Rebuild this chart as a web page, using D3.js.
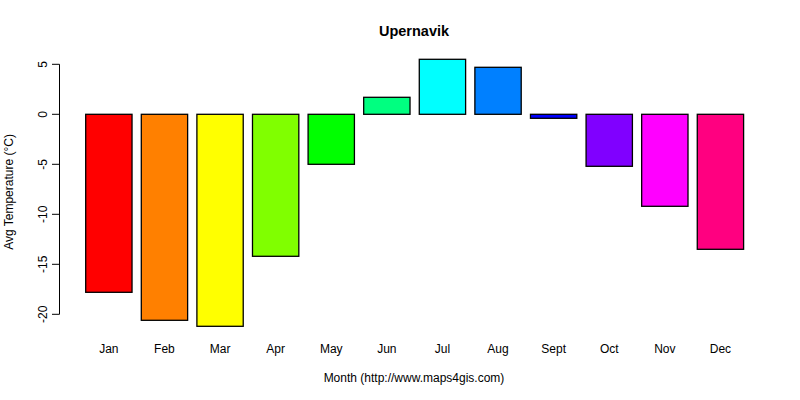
<!DOCTYPE html>
<html><head><meta charset="utf-8">
<script src="https://cdn.jsdelivr.net/npm/d3@7"></script>
<style>body{margin:0;background:#fff}svg{display:block}text{font-family:"Liberation Sans",Arial,sans-serif;fill:#000}</style>
</head><body><svg id="c" width="800" height="400"></svg>
<script>
const months = ["Jan","Feb","Mar","Apr","May","Jun","Jul","Aug","Sept","Oct","Nov","Dec"];
const temps = [-17.8,-20.6,-21.2,-14.2,-5.0,1.7,5.5,4.7,-0.4,-5.2,-9.2,-13.5];
const colors = ["#FF0000","#FF8000","#FFFF00","#80FF00","#00FF00","#00FF80","#00FFFF","#0080FF","#0000FF","#8000FF","#FF00FF","#FF0080"];
const yTicks = [5,0,-5,-10,-15,-20];
const title = "Upernavik";
const xTitle = "Month (http://www.maps4gis.com)";
const yTitle = "Avg Temperature (°C)";

const svg = d3.select("#c");
const x = d3.scaleBand().domain(months).range([85.7,743.6]).paddingInner(0.2/1.2).paddingOuter(0);
const y = d3.scaleLinear().domain([-20,5]).range([314.3,64.3]);

svg.selectAll("rect.bar").data(months).enter().append("rect")
  .attr("x", d=>x(d)).attr("width", x.bandwidth())
  .attr("y", (d,i)=>y(Math.max(0,temps[i])))
  .attr("height", (d,i)=>Math.abs(y(temps[i])-y(0)))
  .attr("fill", (d,i)=>colors[i]).attr("stroke","#000").attr("stroke-width",1.3);

// y axis
const ax = svg.append("g").attr("transform","translate(59.5,0)");
ax.append("line").attr("x1",0).attr("x2",0).attr("y1",y(5)).attr("y2",y(-20)).attr("stroke","#000").attr("stroke-width",1);
yTicks.forEach(t=>{
  ax.append("line").attr("x1",-7.5).attr("x2",0).attr("y1",y(t)).attr("y2",y(t)).attr("stroke","#000");
  ax.append("text").attr("transform",`translate(-17,${y(t)}) rotate(-90)`).attr("text-anchor","middle")
    .attr("dy","0.35em").style("font-size","12px").text(t);
});
// x labels
svg.selectAll("text.m").data(months).enter().append("text")
  .attr("x", d=>x(d)+x.bandwidth()/2).attr("y",353).attr("text-anchor","middle").style("font-size","12px").text(d=>d);

svg.append("text").attr("x",414).attr("y",36).attr("text-anchor","middle").style("font-size","14.5px").style("font-weight","bold").text(title);
svg.append("text").attr("x",414).attr("y",382).attr("text-anchor","middle").style("font-size","12px").text(xTitle);
svg.append("text").attr("transform","translate(13,192) rotate(-90)").attr("text-anchor","middle").style("font-size","12px").text(yTitle);
</script></body></html>
